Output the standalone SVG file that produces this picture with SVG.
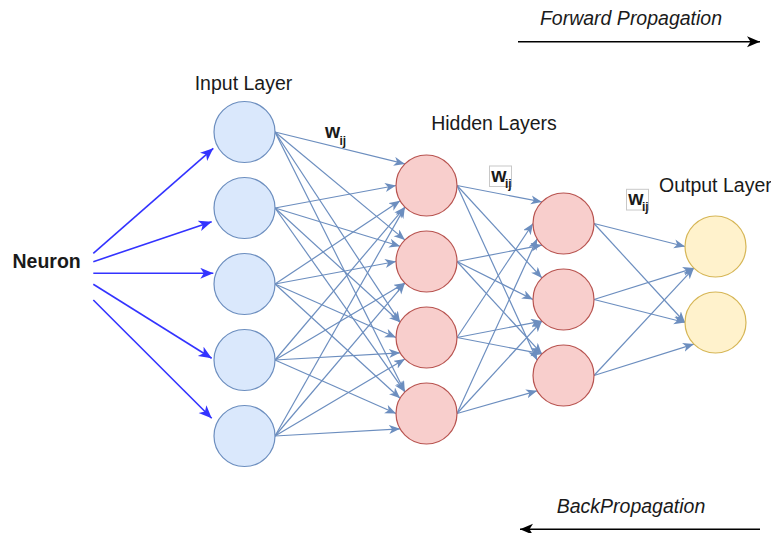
<svg xmlns="http://www.w3.org/2000/svg" width="771" height="533" viewBox="0 0 771 533">
<style>
.t{font-family:"Liberation Sans",Arial,Helvetica,sans-serif;font-size:19.5px;fill:#1a1a1a}
.it{font-style:italic}
.c{stroke:#6c8ebf;stroke-width:1.2;fill:none;marker-end:url(#ag)}
.b{stroke:#3333ff;stroke-width:1.6;fill:none;marker-end:url(#ab)}
.k{stroke:#000;stroke-width:1.6;fill:none;marker-end:url(#ak)}
.in{fill:#dae8fc;stroke:#6c8ebf;stroke-width:1.2}
.hd{fill:#f8cecc;stroke:#b85450;stroke-width:1.2}
.out{fill:#fff2cc;stroke:#d6b656;stroke-width:1.2}
.w{font-family:"Liberation Sans",Arial,sans-serif;font-weight:bold;fill:#1a1a1a}
.bx{fill:#fff;stroke:#c8c8c8;stroke-width:1}
</style>
<defs>
<marker id="ag" markerUnits="userSpaceOnUse" markerWidth="12" markerHeight="10" refX="11" refY="4.5" orient="auto"><path d="M0,0 L11,4.5 L0,9 L3,4.5 Z" fill="#6c8ebf"/></marker>
<marker id="ab" markerUnits="userSpaceOnUse" markerWidth="14" markerHeight="12" refX="13" refY="5.5" orient="auto"><path d="M0,0 L13,5.5 L0,11 L3.5,5.5 Z" fill="#3333ff"/></marker>
<marker id="ak" markerUnits="userSpaceOnUse" markerWidth="14" markerHeight="12" refX="13" refY="5.5" orient="auto"><path d="M0,0 L13,5.5 L0,11 L3.5,5.5 Z" fill="#000"/></marker>
</defs>
<rect width="771" height="533" fill="#fff"/>

<g id="connectors">
<line class="k" x1="518" y1="41.7" x2="760" y2="41.7"/>
<line class="k" x1="760" y1="529.3" x2="520" y2="529.3"/>
<line class="b" x1="93.3" y1="253.3" x2="213.3" y2="148.3"/>
<line class="b" x1="93.3" y1="261.7" x2="211.7" y2="221.7"/>
<line class="b" x1="93.3" y1="273.3" x2="213.3" y2="273.3"/>
<line class="b" x1="93.3" y1="284.3" x2="211.7" y2="358.3"/>
<line class="b" x1="93.3" y1="300" x2="211.7" y2="418.3"/>

<line class="c" x1="275" y1="132" x2="404.9" y2="163.9"/>
<line class="c" x1="275" y1="208" x2="396" y2="185.5"/>
<line class="c" x1="275" y1="284" x2="400.1" y2="200.8"/>
<line class="c" x1="275" y1="360" x2="404.9" y2="207.1"/>
<line class="c" x1="275" y1="436" x2="404.9" y2="207.1"/>
<line class="c" x1="275" y1="132" x2="404.9" y2="239.9"/>
<line class="c" x1="275" y1="208" x2="400.1" y2="246.3"/>
<line class="c" x1="275" y1="284" x2="396" y2="261.5"/>
<line class="c" x1="275" y1="360" x2="404.9" y2="283.1"/>
<line class="c" x1="275" y1="436" x2="404.9" y2="283.1"/>
<line class="c" x1="275" y1="132" x2="400.1" y2="322.3"/>
<line class="c" x1="275" y1="208" x2="400.1" y2="322.3"/>
<line class="c" x1="275" y1="284" x2="396" y2="337.5"/>
<line class="c" x1="275" y1="360" x2="400.1" y2="352.8"/>
<line class="c" x1="275" y1="436" x2="404.9" y2="359.1"/>
<line class="c" x1="275" y1="132" x2="404.9" y2="391.9"/>
<line class="c" x1="275" y1="208" x2="404.9" y2="391.9"/>
<line class="c" x1="275" y1="284" x2="400.1" y2="398.3"/>
<line class="c" x1="275" y1="360" x2="396" y2="413.5"/>
<line class="c" x1="275" y1="436" x2="400.1" y2="428.8"/>

<line class="c" x1="457" y1="185.5" x2="541.9" y2="201.9"/>
<line class="c" x1="457" y1="261.5" x2="541.9" y2="245.1"/>
<line class="c" x1="457" y1="337.5" x2="533" y2="223.5"/>
<line class="c" x1="457" y1="413.5" x2="537.1" y2="238.8"/>
<line class="c" x1="457" y1="185.5" x2="541.9" y2="277.9"/>
<line class="c" x1="457" y1="261.5" x2="533" y2="299.5"/>
<line class="c" x1="457" y1="337.5" x2="541.9" y2="321.1"/>
<line class="c" x1="457" y1="413.5" x2="541.9" y2="321.1"/>
<line class="c" x1="457" y1="185.5" x2="537.1" y2="360.3"/>
<line class="c" x1="457" y1="261.5" x2="541.9" y2="353.9"/>
<line class="c" x1="457" y1="337.5" x2="541.9" y2="353.9"/>
<line class="c" x1="457" y1="413.5" x2="537.1" y2="390.8"/>

<line class="c" x1="594" y1="223.5" x2="685" y2="246.5"/>
<line class="c" x1="594" y1="223.5" x2="685" y2="322.5"/>
<line class="c" x1="594" y1="299.5" x2="693.9" y2="268.1"/>
<line class="c" x1="594" y1="299.5" x2="685" y2="322.5"/>
<line class="c" x1="594" y1="375.5" x2="693.9" y2="268.1"/>
<line class="c" x1="594" y1="375.5" x2="693.9" y2="344.1"/>
</g>

<g id="input-1"><circle class="in" cx="244.5" cy="132" r="30.5"/></g>
<g id="input-2"><circle class="in" cx="244.5" cy="208" r="30.5"/></g>
<g id="input-3"><circle class="in" cx="244.5" cy="284" r="30.5"/></g>
<g id="input-4"><circle class="in" cx="244.5" cy="360" r="30.5"/></g>
<g id="input-5"><circle class="in" cx="244.5" cy="436" r="30.5"/></g>

<g id="hidden1-1"><circle class="hd" cx="426.5" cy="185.5" r="30.5"/></g>
<g id="hidden1-2"><circle class="hd" cx="426.5" cy="261.5" r="30.5"/></g>
<g id="hidden1-3"><circle class="hd" cx="426.5" cy="337.5" r="30.5"/></g>
<g id="hidden1-4"><circle class="hd" cx="426.5" cy="413.5" r="30.5"/></g>

<g id="hidden2-1"><circle class="hd" cx="563.5" cy="223.5" r="30.5"/></g>
<g id="hidden2-2"><circle class="hd" cx="563.5" cy="299.5" r="30.5"/></g>
<g id="hidden2-3"><circle class="hd" cx="563.5" cy="375.5" r="30.5"/></g>

<g id="output-1"><circle class="out" cx="715.5" cy="246.5" r="30.5"/></g>
<g id="output-2"><circle class="out" cx="715.5" cy="322.5" r="30.5"/></g>

<g id="labels">
<text class="t it" x="631" y="25" text-anchor="middle">Forward Propagation</text>
<text class="t it" x="631" y="513.3" text-anchor="middle">BackPropagation</text>
<text class="t" x="243.5" y="90" text-anchor="middle">Input Layer</text>
<text class="t" x="494" y="130" text-anchor="middle">Hidden Layers</text>
<text class="t" x="659" y="191.5">Output Layer</text>
<text class="t" x="12.5" y="268.3" font-weight="bold">Neuron</text>
</g>

<g id="wij-1">
<text class="w" x="325" y="138.3" font-size="19.5">w</text>
<text class="w" x="339.5" y="144.5" font-size="12">ij</text>
</g>
<g id="wij-2">
<rect class="bx" x="489.5" y="166" width="22" height="20.5"/>
<text class="w" x="491.3" y="181.7" font-size="19.5">w</text>
<text class="w" x="505" y="187.5" font-size="12">ij</text>
</g>
<g id="wij-3">
<rect class="bx" x="626.5" y="189.3" width="22" height="20.7"/>
<text class="w" x="628.2" y="205" font-size="19.5">w</text>
<text class="w" x="642" y="210.8" font-size="12">ij</text>
</g>
</svg>
